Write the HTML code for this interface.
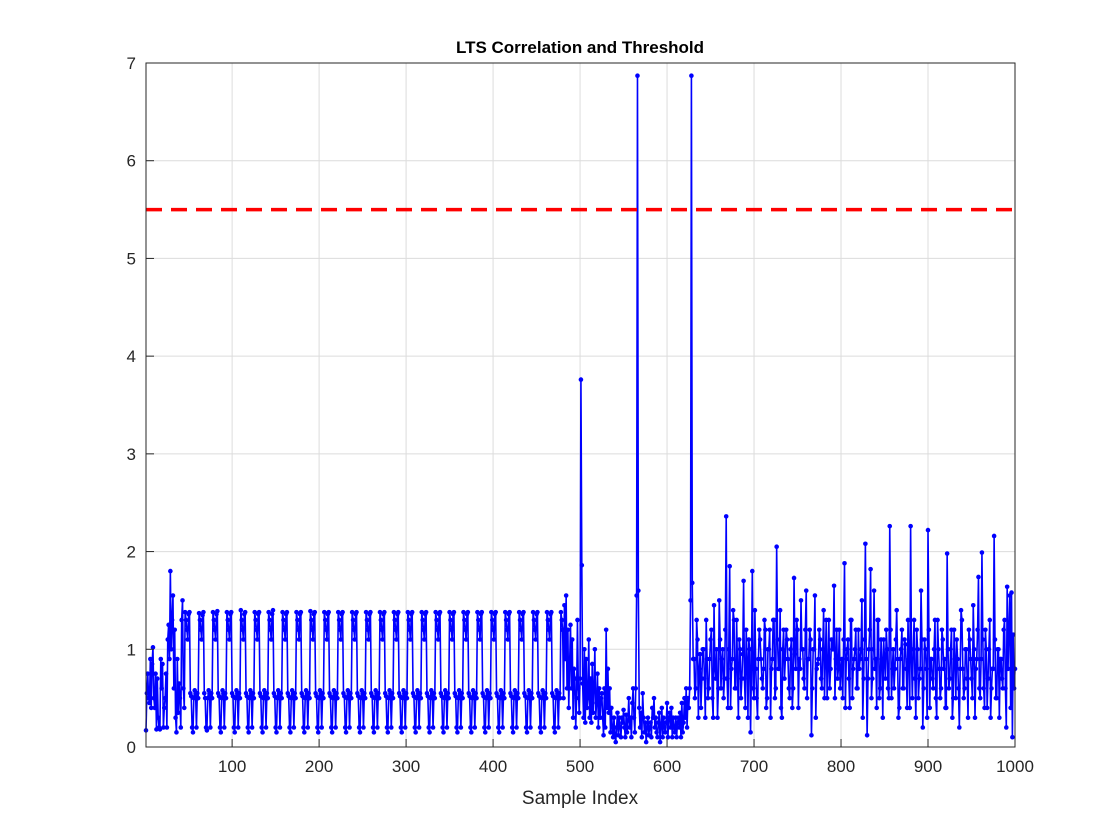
<!DOCTYPE html>
<html><head><meta charset="utf-8">
<style>
html,body{margin:0;padding:0;background:#fff;}
svg{display:block;font-family:"Liberation Sans",Arial,sans-serif;}
</style></head>
<body>
<svg id="chart" width="1120" height="840" viewBox="0 0 1120 840" xmlns="http://www.w3.org/2000/svg">
<rect width="1120" height="840" fill="#fff"/>
<g id="grid"></g>
<g id="series"></g>
<g id="thr"></g>
<rect x="146" y="63" width="869" height="684" fill="none" stroke="#262626" stroke-width="1"/>
<g id="ticks"></g>
<text x="580" y="53" text-anchor="middle" font-size="17" font-weight="bold" fill="#000">LTS Correlation and Threshold</text>
<text x="580" y="804" text-anchor="middle" font-size="19" fill="#262626">Sample Index</text>
</svg>
<script>
const xTicks=[100,200,300,400,500,600,700,800,900,1000];
const yTicks=[0,1,2,3,4,5,6,7];
const threshold=5.5;
const segStarts=[1,46,481,501,565,626,630];
const seg1=[0.17,0.55,0.75,0.5,0.45,0.9,0.4,0.85,1.02,0.5,0.4,0.75,0.18,0.7,0.3,0.2,0.18,0.9,0.6,0.85,0.2,0.4,0.5,0.75,0.2,1.1,1.25,0.9,1.8,1.0,1.3,1.55,0.6,1.2,0.3,0.15,0.9,0.35,0.65,0.5,0.2,1.3,1.5,0.6,0.4];
const seg2=[
1.38,1.3,1.2,1.1,1.36,1.38,0.55,0.52,0.2,0.15,0.5,0.58,0.55,0.2,0.55,0.5,
1.37,1.3,1.2,1.1,1.35,1.38,0.55,0.5,0.2,0.17,0.5,0.58,0.55,0.2,0.55,0.5,
1.38,1.3,1.2,1.1,1.36,1.39,0.55,0.52,0.2,0.15,0.5,0.58,0.55,0.2,0.55,0.5,
1.38,1.3,1.2,1.1,1.36,1.38,0.55,0.52,0.2,0.15,0.5,0.58,0.55,0.2,0.55,0.5,
1.4,1.3,1.2,1.1,1.36,1.38,0.55,0.52,0.2,0.15,0.5,0.58,0.55,0.2,0.55,0.5,
1.38,1.3,1.2,1.1,1.36,1.38,0.55,0.52,0.2,0.15,0.5,0.58,0.55,0.2,0.55,0.5,
1.38,1.3,1.2,1.1,1.36,1.4,0.55,0.52,0.2,0.15,0.5,0.58,0.55,0.2,0.55,0.5,
1.38,1.3,1.2,1.1,1.36,1.38,0.55,0.52,0.2,0.15,0.5,0.58,0.55,0.2,0.55,0.5,
1.38,1.3,1.2,1.1,1.36,1.38,0.55,0.52,0.2,0.15,0.5,0.58,0.55,0.2,0.55,0.5,
1.39,1.3,1.2,1.1,1.36,1.38,0.55,0.52,0.2,0.15,0.5,0.58,0.55,0.2,0.55,0.5,
1.38,1.3,1.2,1.1,1.36,1.38,0.55,0.52,0.2,0.15,0.5,0.58,0.55,0.2,0.55,0.5,
1.38,1.3,1.2,1.1,1.36,1.38,0.55,0.52,0.2,0.15,0.5,0.58,0.55,0.2,0.55,0.5,
1.38,1.3,1.2,1.1,1.36,1.38,0.55,0.52,0.2,0.15,0.5,0.58,0.55,0.2,0.55,0.5,
1.38,1.3,1.2,1.1,1.36,1.38,0.55,0.52,0.2,0.15,0.5,0.58,0.55,0.2,0.55,0.5,
1.38,1.3,1.2,1.1,1.36,1.38,0.55,0.52,0.2,0.15,0.5,0.58,0.55,0.2,0.55,0.5,
1.38,1.3,1.2,1.1,1.36,1.38,0.55,0.52,0.2,0.15,0.5,0.58,0.55,0.2,0.55,0.5,
1.38,1.3,1.2,1.1,1.36,1.38,0.55,0.52,0.2,0.15,0.5,0.58,0.55,0.2,0.55,0.5,
1.38,1.3,1.2,1.1,1.36,1.38,0.55,0.52,0.2,0.15,0.5,0.58,0.55,0.2,0.55,0.5,
1.38,1.3,1.2,1.1,1.36,1.38,0.55,0.52,0.2,0.15,0.5,0.58,0.55,0.2,0.55,0.5,
1.38,1.3,1.2,1.1,1.36,1.38,0.55,0.52,0.2,0.15,0.5,0.58,0.55,0.2,0.55,0.5,
1.38,1.3,1.2,1.1,1.36,1.38,0.55,0.52,0.2,0.15,0.5,0.58,0.55,0.2,0.55,0.5,
1.38,1.3,1.2,1.1,1.36,1.38,0.55,0.52,0.2,0.15,0.5,0.58,0.55,0.2,0.55,0.5,
1.38,1.3,1.2,1.1,1.36,1.38,0.55,0.52,0.2,0.15,0.5,0.58,0.55,0.2,0.55,0.5,
1.38,1.3,1.2,1.1,1.36,1.38,0.55,0.52,0.2,0.15,0.5,0.58,0.55,0.2,0.55,0.5,
1.38,1.3,1.2,1.1,1.36,1.38,0.55,0.52,0.2,0.15,0.5,0.58,0.55,0.2,0.55,0.5,
1.38,1.3,1.2,1.1,1.36,1.38,0.55,0.52,0.2,0.15,0.5,0.58,0.55,0.2,0.55,0.5,
1.38,1.3,1.2,1.1,1.36,1.38,0.55,0.52,0.2,0.15,0.5,0.58,0.55,0.2,0.55,0.5,
1.38,1.3,1.2];
const seg3=[0.5,1.45,0.9,1.55,0.6,1.2,0.4,0.85,1.25,0.6,1.1,0.3,0.8,0.7,0.2,0.5,1.3,0.6,0.35,0.7];
const seg4=[3.76,1.86,0.65,0.3,1.0,0.25,0.9,0.4,0.5,1.1,0.3,0.7,0.25,0.85,0.35,0.6,1.0,0.3,0.45,0.75,0.2,0.6,0.3,0.5,0.55,0.3,0.12,0.6,0.2,1.2,0.4,0.8,0.35,0.6,0.15,0.4,0.2,0.1,0.3,0.12,0.05,0.2,0.35,0.12,0.3,0.2,0.1,0.3,0.25,0.38,0.2,0.1,0.33,0.15,0.27,0.5,0.2,0.3,0.1,0.45,0.6,0.3,0.15,0.6];
const seg5=[1.55,6.87,1.6,0.4,0.2,0.35,0.1,0.55,0.3,0.15,0.25,0.05,0.2,0.3,0.12,0.2,0.25,0.1,0.4,0.3,0.5,0.2,0.3,0.15,0.1,0.25,0.35,0.05,0.2,0.4,0.1,0.3,0.2,0.15,0.25,0.45,0.1,0.3,0.35,0.2,0.4,0.1,0.3,0.2,0.15,0.3,0.1,0.25,0.3,0.2,0.35,0.1,0.45,0.15,0.25,0.5,0.3,0.6,0.2,0.5,0.4];
const seg6=[0.6,1.5,6.87,1.68];
/* final region: odd samples (peaks) and even samples (background), interleaved */
const tailOdd=[0.9,0.5,1.3,0.3,0.95,0.7,1.0,0.3,0.9,0.6,1.1,0.5,1.45,0.7,0.3,1.5,0.6,1.0,0.7,2.36,0.4,1.85,0.8,1.4,0.6,1.3,0.3,1.0,0.7,1.7,0.4,0.9,1.1,0.15,1.8,0.5,0.8,0.3,1.2,0.9,
0.6,1.3,0.4,1.0,1.2,0.8,1.3,0.5,2.05,0.8,1.4,0.3,1.2,0.9,1.1,0.6,1.0,0.4,1.73,0.8,1.2,0.9,1.5,1.0,0.6,1.6,0.9,1.2,0.12,1.0,1.55,0.8,0.9,1.1,0.6,1.4,0.9,0.5,1.3,0.8,
1.0,1.65,0.9,0.7,1.2,0.8,0.5,1.88,0.9,1.1,0.4,1.3,0.8,1.0,0.6,1.2,0.9,1.5,0.7,2.08,0.12,1.0,1.82,0.7,1.6,0.9,1.3,0.5,1.1,0.3,0.9,1.2,0.6,2.26,0.5,1.0,0.8,1.4,0.3,0.9,
1.2,0.6,1.05,0.4,0.9,2.26,0.5,1.3,0.3,1.0,0.7,1.6,0.2,1.1,0.8,2.22,0.4,0.9,0.6,1.3,0.3,1.0,0.5,1.2,0.8,0.4,1.98,0.6,1.0,0.3,1.2,0.5,0.9,0.2,1.4,0.8,0.6,1.0,0.3,1.1,
0.7,1.45,0.3,0.9,1.74,0.5,1.99,0.6,1.2,0.4,1.0,0.3,0.8,2.16,0.5,1.0,0.3,0.9,0.6,1.3,0.2,1.64,0.8,1.2,1.55,0.4,1.58,0.1,1.15,0.6,0.8];
const tailEven=[0.9,0.6,1.1,0.8,0.4,1.0,0.7,1.3,0.5,0.9,1.2,0.3,0.8,1.0,0.6,1.1,0.9,0.5,1.2,0.7,1.0,0.4,0.9,1.3,0.6,0.8,1.1,0.5,0.95,0.7,1.2,0.3,1.0,0.8,0.6,1.4,0.5,0.9,1.1,0.7,
0.8,1.2,0.5,1.0,0.3,0.9,1.3,0.6,1.1,0.8,0.4,1.0,0.7,1.2,0.9,0.5,1.1,0.6,0.95,1.3,0.4,0.8,1.0,0.7,1.2,0.5,0.9,1.1,0.6,1.0,0.3,0.85,1.2,0.7,1.0,0.5,1.3,0.8,0.6,1.1,
1.0,0.5,1.2,0.8,0.6,0.9,1.1,0.4,1.0,0.7,1.3,0.5,0.9,1.2,0.6,0.8,1.0,0.3,1.1,0.9,0.7,1.2,0.5,1.0,0.8,0.4,1.3,0.6,0.9,1.1,0.7,1.0,0.5,1.2,0.8,0.6,1.1,0.9,0.4,1.0,
0.6,1.1,0.8,1.3,0.4,0.9,1.0,0.7,1.2,0.5,0.8,1.1,0.6,1.0,0.3,1.2,0.9,0.7,1.0,0.5,1.3,0.8,0.6,1.1,0.9,0.4,1.0,0.7,1.2,0.5,0.9,1.1,0.6,0.8,1.3,0.5,1.0,0.7,1.2,0.9,
0.5,1.0,0.8,1.2,0.6,0.9,1.1,0.4,1.0,0.7,1.3,0.6,0.8,1.1,0.5,1.0,0.9,0.7,1.2,0.6];

const L=146,R=1015,T=63,B=747,XMIN=1,XMAX=1000,YMIN=0,YMAX=7;
const xs=v=>L+(v-XMIN)/(XMAX-XMIN)*(R-L);
const ys=v=>B-(v-YMIN)/(YMAX-YMIN)*(B-T);
const NS='http://www.w3.org/2000/svg';
function mk(tag,attrs,parent){const e=document.createElementNS(NS,tag);for(const k in attrs)e.setAttribute(k,attrs[k]);parent.appendChild(e);return e;}

const seg7=[];
for(let i=0;i<Math.max(tailOdd.length,tailEven.length);i++){
  if(i<tailOdd.length)seg7.push(tailOdd[i]);
  if(i<tailEven.length)seg7.push(tailEven[i]);
}
const segments=[seg1,seg2,seg3,seg4,seg5,seg6,seg7];

const grid=document.getElementById('grid'),ticks=document.getElementById('ticks');
xTicks.forEach(t=>{
  const x=xs(t);
  const g=mk('line',{x1:x,x2:x,y1:T,y2:B,stroke:'#dcdcdc','stroke-width':1},grid);
  
  
  const tk=mk('line',{x1:x,x2:x,y1:B,y2:B-8,stroke:'#262626','stroke-width':1},ticks);
  
  
  const lb=mk('text',{x:x,y:B+25,'text-anchor':'middle','font-size':17,fill:'#262626'},ticks);
  lb.textContent=t;
  
  
});
yTicks.forEach(t=>{
  const y=ys(t);
  const g=mk('line',{x1:L,x2:R,y1:y,y2:y,stroke:'#dcdcdc','stroke-width':1},grid);
  
  
  const tk=mk('line',{x1:L,x2:L+8,y1:y,y2:y,stroke:'#262626','stroke-width':1},ticks);
  
  
  const lb=mk('text',{x:L-10,y:y+6,'text-anchor':'end','font-size':17,fill:'#262626'},ticks);
  lb.textContent=t;
  
  
});

const series=document.getElementById('series');
const pts=[];
segments.forEach((s,i)=>s.forEach((v,j)=>{const x=segStarts[i]+j;if(x<=XMAX)pts.push([x,v]);}));
const d=pts.map((p,i)=>(i?'L':'M')+xs(p[0]).toFixed(2)+' '+ys(p[1]).toFixed(2)).join('');
const line=mk('path',{d:d,fill:'none',stroke:'#0000ff','stroke-width':1.6,'stroke-linejoin':'round'},series);


pts.forEach(p=>{
  const c=mk('circle',{cx:xs(p[0]).toFixed(2),cy:ys(p[1]).toFixed(2),r:2.3,fill:'#0000ff'},series);
  
  
});
const thr=mk('line',{x1:L,x2:R,y1:ys(threshold),y2:ys(threshold),stroke:'#ff0000','stroke-width':3.5,'stroke-dasharray':'16 9'},document.getElementById('thr'));


</script>
</body></html>
